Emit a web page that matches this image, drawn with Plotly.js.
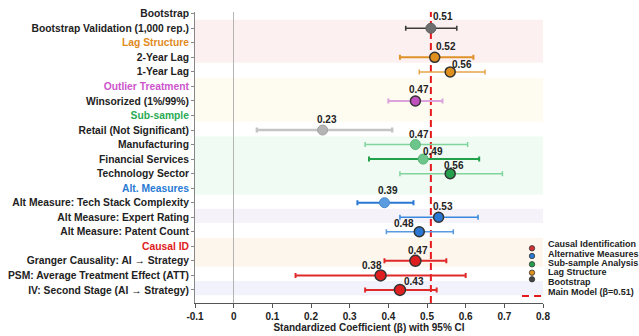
<!DOCTYPE html>
<html>
<head>
<meta charset="utf-8">
<script src="https://cdn.plot.ly/plotly-3.0.1.min.js"></script>
<style>
  html, body { margin: 0; padding: 0; background: #fff; }
  #chart { width: 639px; height: 336px; }
</style>
</head>
<body>
<div id="chart"></div>
<script>
// ---- data ----
const rowLabels = [
  "Bootstrap",
  "Bootstrap Validation (1,000 rep.)",
  "Lag Structure",
  "2-Year Lag",
  "1-Year Lag",
  "Outlier Treatment",
  "Winsorized (1%/99%)",
  "Sub-sample",
  "Retail (Not Significant)",
  "Manufacturing",
  "Financial Services",
  "Technology Sector",
  "Alt. Measures",
  "Alt Measure: Tech Stack Complexity",
  "Alt Measure: Expert Rating",
  "Alt Measure: Patent Count",
  "Causal ID",
  "Granger Causality: AI \u2192 Strategy",
  "PSM: Average Treatment Effect (ATT)",
  "IV: Second Stage (AI \u2192 Strategy)"
];
const estimates = [null, 0.51, null, 0.52, 0.56, null, 0.47, null, 0.23, 0.47, 0.49, 0.56, null, 0.39, 0.53, 0.48, null, 0.47, 0.38, 0.43];
const ciLower   = [null, 0.445, null, 0.43, 0.48, null, 0.40, null, 0.06, 0.34, 0.35, 0.43, null, 0.32, 0.43, 0.395, null, 0.39, 0.16, 0.34];
const ciUpper   = [null, 0.577, null, 0.62, 0.65, null, 0.54, null, 0.41, 0.605, 0.635, 0.695, null, 0.465, 0.632, 0.568, null, 0.55, 0.60, 0.525];
const mainModelBeta = 0.51;
const xTickVals = [-0.1, 0, 0.1, 0.2, 0.3, 0.4, 0.5, 0.6, 0.7, 0.8];
const xTickText = ["-0.1", "0", "0.1", "0.2", "0.3", "0.4", "0.5", "0.6", "0.7", "0.8"];
const legendNames = ["Causal Identification", "Alternative Measures", "Sub-sample Analysis", "Lag Structure", "Bootstrap", "Main Model (\u03b2=0.51)"];

// ---- styling ----
const headerColor = {
  "Bootstrap": "#222222",
  "Lag Structure": "#e08a1e",
  "Outlier Treatment": "#cc55cc",
  "Sub-sample": "#2aaa55",
  "Alt. Measures": "#2a7ad4",
  "Causal ID": "#e02020"
};
const rowStyle = [
  null,
  {fill: "#6e6e6e", line: "#5e5e5e", lw: 1,   size: 10, bar: "#3c3c3c", bw: 1.6},
  null,
  {fill: "#e0901e", line: "#333333", lw: 1.5, size: 10, bar: "#e0922a", bw: 2},
  {fill: "#e0901e", line: "#333333", lw: 1.5, size: 10, bar: "#e8a548", bw: 1.5},
  null,
  {fill: "#c050c0", line: "#333333", lw: 1.5, size: 10, bar: "#dca3dc", bw: 2},
  null,
  {fill: "#b4b4b4", line: "#a0a0a0", lw: 1,   size: 10, bar: "#c4c4c4", bw: 2.5},
  {fill: "#6cc58a", line: "#5cb47a", lw: 1,   size: 10, bar: "#80d49c", bw: 1.5},
  {fill: "#6cc58a", line: "#5cb47a", lw: 1,   size: 10, bar: "#22a04a", bw: 2},
  {fill: "#25a04c", line: "#333333", lw: 1.5, size: 10, bar: "#80d49c", bw: 1.5},
  null,
  {fill: "#5b9be0", line: "#4a8ad0", lw: 1,   size: 10, bar: "#2a78d4", bw: 2},
  {fill: "#2a78d4", line: "#333333", lw: 1.5, size: 10, bar: "#3a88dc", bw: 1.5},
  {fill: "#2a78d4", line: "#333333", lw: 1.5, size: 10, bar: "#5a9ae0", bw: 1.5},
  null,
  {fill: "#e02020", line: "#333333", lw: 1.5, size: 11, bar: "#e02a2a", bw: 2},
  {fill: "#e02020", line: "#333333", lw: 1.5, size: 11, bar: "#e02a2a", bw: 2},
  {fill: "#e02020", line: "#333333", lw: 1.5, size: 11, bar: "#e02a2a", bw: 2}
];
// value label offsets in pixels [dx, dy]
const labelShift = [
  null, [12, 12], null, [11, 11], [12, 7], null, [4, 11], null, [4, 11], [4, 10], [10, 8], [4, 8],
  null, [4, 12], [4, 11], [-15, 8], null, [3, 10], [-9, 10], [14, 8]
];
const bands = [
  {from: 0.42, to: 3.38, color: "#fdf0f0"},
  {from: 4.42, to: 7.42, color: "#fefcf1"},
  {from: 8.44, to: 12.44, color: "#effbf3"},
  {from: 13.42, to: 14.4, color: "#f6f2f9"},
  {from: 15.43, to: 17.4, color: "#fdf6ec"},
  {from: 18.38, to: 19.36, color: "#f2f2fc"}
];
const legendColors = ["#d03030", "#2a78d4", "#25a04c", "#e0901e", "#444444"];

const FONT = "Liberation Sans, Arial, sans-serif";
const rows = rowLabels.map((_, i) => i);

// ---- traces: one per estimated row ----
const traces = [];
rows.forEach(i => {
  if (estimates[i] === null) return;
  const s = rowStyle[i];
  traces.push({
    type: "scatter",
    mode: "markers",
    x: [estimates[i]],
    y: [i],
    showlegend: false,
    hoverinfo: "skip",
    marker: {size: s.size, color: s.fill, line: {color: s.line, width: s.lw}},
    error_x: {
      type: "data",
      symmetric: false,
      array: [ciUpper[i] - estimates[i]],
      arrayminus: [estimates[i] - ciLower[i]],
      color: s.bar,
      thickness: s.bw,
      width: 2.5
    }
  });
});

// ---- tick labels ----
const tickText = rowLabels.map(l => headerColor[l]
  ? '<span style="color:' + headerColor[l] + '">' + l + '</span>'
  : l);

// ---- shapes ----
const shapes = bands.map(b => ({
  type: "rect", xref: "paper", yref: "y", x0: 0, x1: 1, y0: b.from, y1: b.to,
  fillcolor: b.color, line: {width: 0}, layer: "below"
}));
shapes.push({
  type: "line", xref: "x", yref: "paper", x0: mainModelBeta, x1: mainModelBeta, y0: 0, y1: 1,
  line: {color: "#e41a1c", width: 2, dash: "7px,4px"}, layer: "between"
});

// ---- legend (drawn compactly at lower right) ----
const plotL = 195, plotR = 543, plotT = 12, plotB = 303;
const px2x = px => (px - plotL) / (plotR - plotL);
const px2y = py => (plotB - py) / (plotB - plotT);
const dotY = [248.3, 256, 264.3, 272.7, 279.3];
const textY = [244, 254, 263.3, 272.3, 282.3, 291.7];
legendColors.forEach((c, k) => {
  shapes.push({
    type: "circle", xref: "paper", yref: "paper",
    xsizemode: "pixel", ysizemode: "pixel",
    xanchor: px2x(532), yanchor: px2y(dotY[k]),
    x0: -2.7, x1: 2.7, y0: -2.7, y1: 2.7,
    fillcolor: c, line: {color: "#333", width: 0.8}, layer: "above"
  });
});
shapes.push({
  type: "line", xref: "paper", yref: "paper",
  x0: px2x(522), x1: px2x(544), y0: px2y(296), y1: px2y(296),
  line: {color: "#e41a1c", width: 2, dash: "7px,5px"}, layer: "above"
});

const annotations = [];
rows.forEach(i => {
  if (estimates[i] === null) return;
  annotations.push({
    x: estimates[i], y: i, xref: "x", yref: "y",
    text: estimates[i].toFixed(2), showarrow: false,
    xshift: labelShift[i][0], yshift: labelShift[i][1],
    font: {family: FONT, size: 10, color: "#222", weight: "bold"}
  });
});
legendNames.forEach((n, k) => {
  annotations.push({
    xref: "paper", yref: "paper", x: px2x(545.5), y: px2y(textY[k]),
    xanchor: "left", yanchor: "middle", text: n, showarrow: false,
    font: {family: FONT, size: 9, color: "#222", weight: "bold"}
  });
});

const layout = {
  width: 639, height: 336,
  margin: {l: plotL, r: 639 - plotR, t: plotT, b: 336 - plotB},
  paper_bgcolor: "#ffffff", plot_bgcolor: "#ffffff",
  font: {family: FONT, color: "#222"},
  showlegend: false,
  xaxis: {
    range: [-0.1, 0.8], tickvals: xTickVals, ticktext: xTickText,
    showgrid: false, zeroline: true, zerolinecolor: "#b4b4b4", zerolinewidth: 1.5,
    showline: true, linecolor: "#555", linewidth: 1,
    ticks: "outside", ticklen: 4, tickcolor: "#555",
    tickfont: {family: FONT, size: 10, color: "#222", weight: "bold"},
    title: {text: "Standardized Coefficient (\u03b2) with 95% CI", standoff: 2,
            font: {family: FONT, size: 10, color: "#222", weight: "bold"}}
  },
  yaxis: {
    range: [19.9, -0.12], tickvals: rows, ticktext: tickText,
    showgrid: false, zeroline: false,
    showline: true, linecolor: "#888", linewidth: 1,
    ticks: "outside", ticklen: 3, tickcolor: "#888",
    tickfont: {family: FONT, size: 10.3, color: "#222", weight: "bold"}
  },
  shapes: shapes,
  annotations: annotations
};

Plotly.newPlot("chart", traces, layout, {displayModeBar: false, staticPlot: true});
</script>
</body>
</html>
